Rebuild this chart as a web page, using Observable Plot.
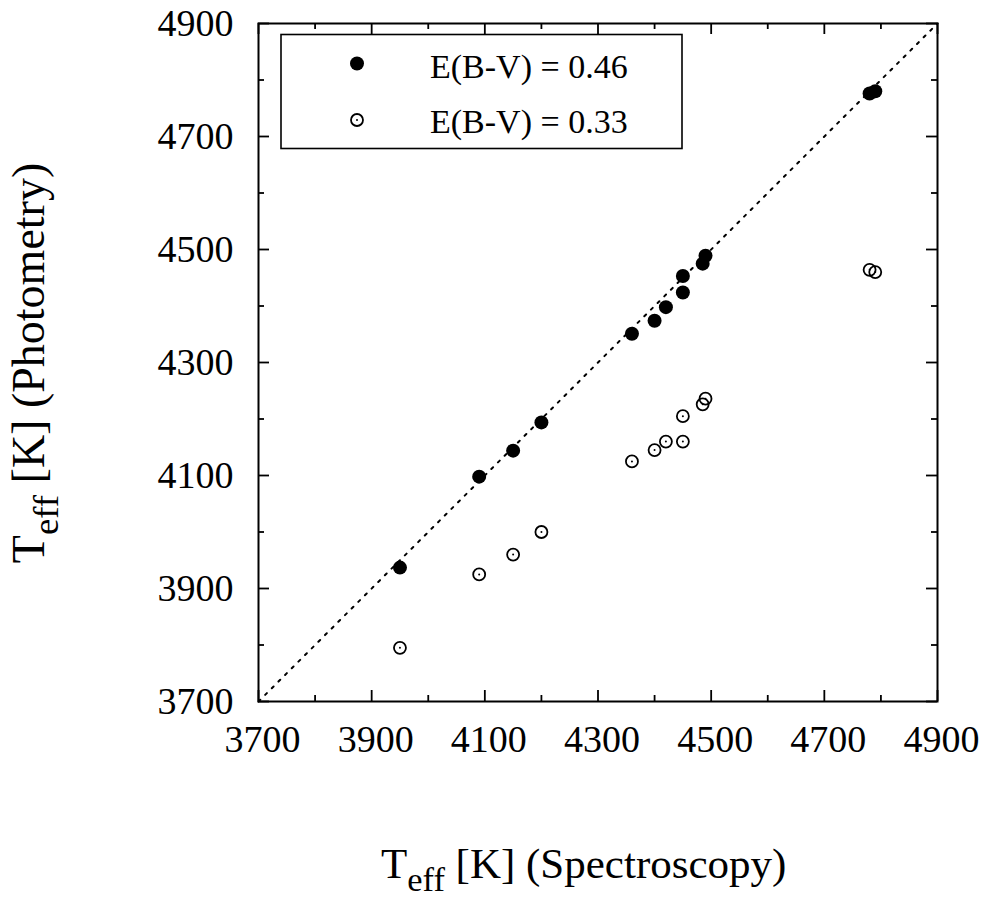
<!DOCTYPE html>
<html>
<head>
<meta charset="utf-8">
<script src="https://cdn.jsdelivr.net/npm/d3@7"></script>
<script src="https://cdn.jsdelivr.net/npm/@observablehq/plot@0.6"></script>
<style>
  html, body { margin: 0; padding: 0; background: #fff; }
  #wrap { position: relative; width: 982px; height: 899px; }
  #wrap > svg { position: absolute; left: 0; top: 0; }
  #overlay { position: absolute; left: 0; top: 0; pointer-events: none; }
</style>
</head>
<body>
<div id="wrap"></div>
<script>
// Data
const tSpec    = [3950, 4090, 4150, 4200, 4360, 4400, 4420, 4450, 4450, 4485, 4490, 4780, 4790];
const tPhot046 = [3937, 4098, 4144, 4194, 4351, 4374, 4398, 4424, 4453, 4475, 4489, 4776, 4780];
const tPhot033 = [3795, 3925, 3960, 4000, 4125, 4145, 4160, 4160, 4205, 4226, 4236, 4464, 4460];
const domain = [3700, 4900];
const majorTicks = [3700, 3900, 4100, 4300, 4500, 4700, 4900];
const minorTicks = [3800, 4000, 4200, 4400, 4600, 4800];
const seriesLabels = ["E(B-V) = 0.46", "E(B-V) = 0.33"];

const filled = tSpec.map((x, i) => ({x, y: tPhot046[i]}));
const open = tSpec.map((x, i) => ({x, y: tPhot033[i]}));
const diag = domain.map(v => ({x: v, y: v}));

const font = "'Liberation Serif', 'Times New Roman', serif";

const W = 982, H = 899, mL = 258, mR = 45, mT = 23, mB = 198;
const pw = W - mL - mR, ph = H - mT - mB;
const majLen = 11, minLen = 6, tickW = 1.8;

const chart = Plot.plot({
  width: W,
  height: H,
  marginLeft: mL,
  marginRight: mR,
  marginTop: mT,
  marginBottom: mB,
  style: {fontFamily: font, background: "#fff", color: "#000"},
  x: {domain, label: null},
  y: {domain, label: null},
  marks: [
    // tick labels
    Plot.axisX({ticks: majorTicks, tickSize: 0, tickPadding: 24, fontSize: 38, dx: 4, label: null, tickFormat: d => String(d)}),
    Plot.axisY({ticks: majorTicks, tickSize: 0, tickPadding: 25, fontSize: 38, label: null, tickFormat: d => String(d)}),
    // inward ticks on all four sides
    Plot.tickX(majorTicks, {x: d => d, stroke: "#000", strokeWidth: tickW, insetTop: ph - majLen}),
    Plot.tickX(minorTicks, {x: d => d, stroke: "#000", strokeWidth: tickW, insetTop: ph - minLen}),
    Plot.tickX(majorTicks, {x: d => d, stroke: "#000", strokeWidth: tickW, insetBottom: ph - majLen}),
    Plot.tickX(minorTicks, {x: d => d, stroke: "#000", strokeWidth: tickW, insetBottom: ph - minLen}),
    Plot.tickY(majorTicks, {y: d => d, stroke: "#000", strokeWidth: tickW, insetRight: pw - majLen}),
    Plot.tickY(minorTicks, {y: d => d, stroke: "#000", strokeWidth: tickW, insetRight: pw - minLen}),
    Plot.tickY(majorTicks, {y: d => d, stroke: "#000", strokeWidth: tickW, insetLeft: pw - majLen}),
    Plot.tickY(minorTicks, {y: d => d, stroke: "#000", strokeWidth: tickW, insetLeft: pw - minLen}),
    // one-to-one line
    Plot.line(diag, {x: "x", y: "y", stroke: "#000", strokeWidth: 2, strokeDasharray: "2.5,6.9"}),
    // E(B-V)=0.33 open circles with centre dot
    Plot.dot(open, {x: "x", y: "y", r: 6, stroke: "#000", strokeWidth: 1.8, fill: "none"}),
    Plot.dot(open, {x: "x", y: "y", r: 1, fill: "#000", stroke: "none"}),
    // E(B-V)=0.46 filled circles
    Plot.dot(filled, {x: "x", y: "y", r: 7, fill: "#000", stroke: "none"}),
    Plot.frame({stroke: "#000", strokeWidth: 2})
  ]
});

const wrap = document.getElementById("wrap");
wrap.appendChild(chart);

// Legend and axis titles (overlay)
const ns = "http://www.w3.org/2000/svg";
const ov = document.createElementNS(ns, "svg");
ov.setAttribute("id", "overlay");
ov.setAttribute("width", W);
ov.setAttribute("height", H);
ov.setAttribute("font-family", font);
ov.innerHTML = `
  <rect x="281" y="34.5" width="401" height="114" fill="#fff" stroke="#000" stroke-width="1.6"/>
  <circle cx="357" cy="63.5" r="7" fill="#000"/>
  <circle cx="357" cy="120" r="6" fill="none" stroke="#000" stroke-width="1.8"/>
  <circle cx="357" cy="120" r="1" fill="#000"/>
  <text x="430" y="78" font-size="34">${seriesLabels[0]}</text>
  <text x="430" y="133" font-size="34">${seriesLabels[1]}</text>
  <text x="381" y="878" font-size="43">T<tspan dy="13" font-size="34.4">eff</tspan><tspan dy="-13"> [K] (Spectroscopy)</tspan></text>
  <text transform="translate(44,363) rotate(-90)" text-anchor="middle" font-size="46">T<tspan dy="14" font-size="36.8">eff</tspan><tspan dy="-14"> [K] (Photometry)</tspan></text>
`;
wrap.appendChild(ov);
</script>
</body>
</html>
